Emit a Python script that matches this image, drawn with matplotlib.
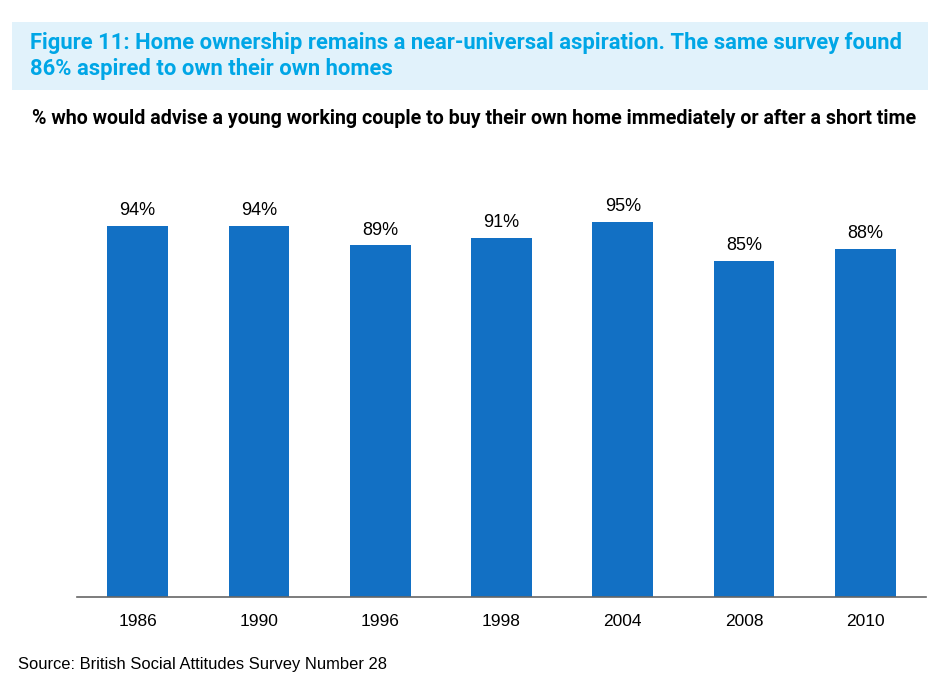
import matplotlib
matplotlib.use("Agg")
import matplotlib.pyplot as plt
from matplotlib.patches import Rectangle

# Data
years = ["1986", "1990", "1996", "1998", "2004", "2008", "2010"]
shares = [94, 94, 89, 91, 95, 85, 88]

title = ("Figure 11: Home ownership remains a near-universal aspiration. The same survey found\n"
         "86% aspired to own their own homes")
subtitle = "% who would advise a young working couple to buy their own home immediately or after a short time"
source = "Source: British Social Attitudes Survey Number 28"

bar_color = "#1270C4"

W, H = 944, 682
fig = plt.figure(figsize=(W / 100, H / 100), dpi=100)

# title box
fig.patches.append(Rectangle((12 / W, 1 - 90 / H), 916 / W, 68 / H,
                             transform=fig.transFigure, facecolor="#E1F2FB",
                             edgecolor="none", zorder=0))
fig.text(30 / W, 1 - 56 / H, title, ha="left", va="center", color="#00A6E6",
         fontsize=15.8, fontweight="bold", family="Roboto", linespacing=1.2)
fig.text(32 / W, 1 - 119 / H, subtitle, ha="left", va="center", color="black",
         fontsize=14.1, fontweight="bold", family="Roboto")

# axes: baseline at y=597, x from 77 to 926
ax = fig.add_axes([77 / W, 1 - 597 / H, 849 / W, 395 / H])
x = range(len(years))
bars = ax.bar(x, shares, width=0.5, color=bar_color)
for b, v in zip(bars, shares):
    ax.annotate(f"{v}%", (b.get_x() + b.get_width() / 2, v), xytext=(0, 5),
                textcoords="offset points", ha="center", va="bottom",
                fontsize=13, family="Liberation Sans")

ax.set_xlim(-0.5, len(years) - 0.5)
ax.set_ylim(0, 100)
ax.set_xticks(list(x))
ax.set_xticklabels(years, fontsize=12.5, family="Liberation Sans")
ax.tick_params(axis="x", length=0, pad=12)
ax.set_yticks([])
for s in ["top", "right", "left"]:
    ax.spines[s].set_visible(False)
ax.spines["bottom"].set_color("#666666")
ax.spines["bottom"].set_linewidth(1.2)

fig.text(18 / W, 1 - 665 / H, source, ha="left", va="center",
         fontsize=11.9, family="Liberation Sans")

fig.savefig("out.png", dpi=100)
